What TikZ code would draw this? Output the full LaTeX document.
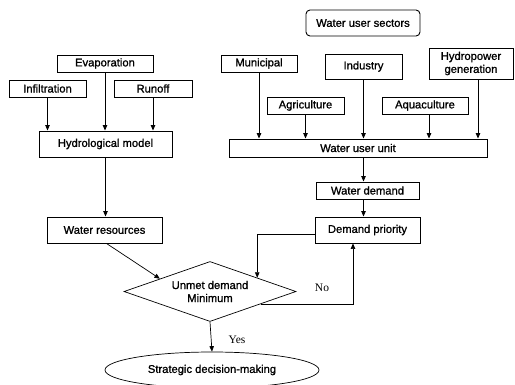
\documentclass[tikz,border=0pt]{standalone}
\usepackage{fontspec}
\setmainfont{Liberation Sans}
\newfontfamily\boxfont[FakeBold=1.1]{Liberation Sans}
\newfontfamily\serifl{Liberation Serif}
\usetikzlibrary{shapes.geometric,arrows.meta,calc}
\begin{document}
\begin{tikzpicture}[x=1pt,y=-1pt,
  box/.style={draw,line width=0.9pt,inner sep=0pt,align=center,font=\boxfont\fontsize{11.2}{13}\selectfont},
  arr/.style={line width=0.9pt,-{Triangle[length=5.5pt,width=4.5pt]}},
  lbl/.style={font=\serifl\fontsize{11.5}{13}\selectfont}]
\useasboundingbox (0,0) rectangle (515,384);
% left column
\node[box,minimum width=96,minimum height=17] (evap) at (105,63.5) {Evaporation};
\node[box,minimum width=77,minimum height=17] (infil) at (47.5,88.5) {Infiltration};
\node[box,minimum width=78,minimum height=17] (runoff) at (153,88.5) {Runoff};
\node[box,minimum width=133,minimum height=26] (hydro) at (105.5,144) {Hydrological model};
\node[box,minimum width=115,minimum height=26] (wres) at (104.5,230) {Water resources};
% right column
\node[box,rounded corners=4pt,minimum width=114,minimum height=26] (wus) at (363,23) {Water user sectors};
\node[box,minimum width=76,minimum height=17] (muni) at (259,63.5) {Municipal};
\node[box,minimum width=77,minimum height=25] (ind) at (363.5,66.5) {Industry};
\node[box,minimum width=84,minimum height=31] (hpg) at (471,63.5) {Hydropower\\generation};
\node[box,minimum width=77,minimum height=17] (agri) at (305.5,105.5) {Agriculture};
\node[box,minimum width=86,minimum height=17] (aqua) at (425,105.5) {Aquaculture};
\node[box,minimum width=258,minimum height=18] (wuu) at (358,148) {Water user unit};
\node[box,minimum width=103,minimum height=17] (wdem) at (367.5,190.5) {Water demand};
\node[box,minimum width=105,minimum height=26] (dprio) at (367.5,230) {Demand priority};
% decision
\node[box,shape=diamond,aspect=2.87,minimum width=172,minimum height=60,line width=0.7pt] (dia) at (210,291.5) {Unmet demand\\Minimum};
\node[box,shape=ellipse,minimum width=214,minimum height=36,line width=0.7pt] (ell) at (212,370) {Strategic decision-making};
% arrows left
\draw[arr] (infil.south) -- (infil.south |- hydro.north);
\draw[arr] (evap.south) -- (evap.south |- hydro.north);
\draw[arr] (runoff.south) -- (runoff.south |- hydro.north);
\draw[arr] (hydro.south) -- (hydro.south |- wres.north);
% arrows right
\draw[arr] (muni.south) -- (muni.south |- wuu.north);
\draw[arr] (agri.south) -- (agri.south |- wuu.north);
\draw[arr] (ind.south) -- (ind.south |- wuu.north);
\draw[arr] ([xshift=4pt]aqua.south) -- ([xshift=4pt]aqua.south |- wuu.north);
\draw[arr] ([xshift=7pt]hpg.south) -- ([xshift=7pt]hpg.south |- wuu.north);
\draw[arr] (wuu.south -| ind.south) -- (wdem.north -| ind.south);
\draw[arr] (wdem.south -| ind.south) -- (dprio.north -| ind.south);
% decision arrows
\draw[arr,line width=0.7pt] ([xshift=2pt]wres.south) -- ($(dia.west)!0.42!(dia.north)$);
\coordinate (dpin) at ($(dia.north)!0.547!(dia.east)$);
\draw[arr,line width=0.7pt] ([yshift=-4pt]dprio.west) -| (dpin);
\coordinate (noout) at ($(dia.east)!0.41!(dia.south)$);
\draw[arr,line width=0.7pt] (noout) -| ([xshift=-14.5pt]dprio.south);
\draw[arr,line width=0.7pt] (dia.south) -- (ell.north);
\node[lbl] (no) at (322,288) {No};
\node[lbl] (yes) at (237,340) {Yes};
\end{tikzpicture}
\end{document}
